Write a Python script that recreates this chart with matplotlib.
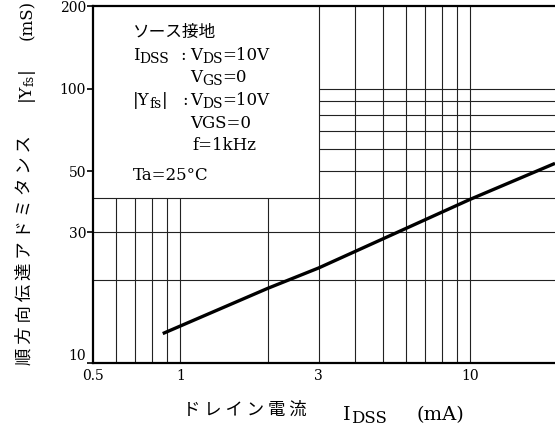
import numpy as np
import matplotlib
matplotlib.use('Agg')
import matplotlib.pyplot as plt

plt.rcParams['font.family'] = ['DejaVu Serif', 'Noto Sans CJK JP']
plt.rcParams['mathtext.fontset'] = 'dejavuserif'

# Data
idss = [0.87, 2, 3, 10, 19.6]          # mA
yfs = [12.8, 18.7, 22.2, 39.5, 53.4]    # mS

x_ticks = [0.5, 1, 3, 10]
x_ticklabels = ['0.5', '1', '3', '10']
y_ticks = [10, 30, 50, 100, 200]
y_ticklabels = ['10', '30', '50', '100', '200']

# grid pieces: lower part only vs full height
v_low = [0.6, 0.7, 0.8, 0.9, 1, 2]
v_full = [3, 4, 5, 6, 7, 8, 9, 10]
h_full = [20, 30, 40]
h_right = [50, 60, 70, 80, 90, 100]

W, H = 555, 428
fig = plt.figure(figsize=(W / 100, H / 100), dpi=100)
ax = fig.add_axes([93 / W, 65 / H, 462 / W, 357 / H])
ax.set_xscale('log')
ax.set_yscale('log')
ax.set_xlim(0.5, 19.6)
ax.set_ylim(10, 200)

gc = '#222222'
ax.vlines(v_low, 10, 40, color=gc, lw=0.8, zorder=1)
ax.vlines(v_full, 10, 200, color=gc, lw=0.8, zorder=1)
ax.hlines(h_full, 0.5, 19.6, color=gc, lw=0.8, zorder=1)
ax.hlines(h_right, 3, 19.6, color=gc, lw=0.8, zorder=1)

ax.plot(idss, yfs, color='black', lw=2.4, solid_capstyle='butt', zorder=3)

ax.set_xticks(x_ticks)
ax.set_xticklabels(x_ticklabels, fontsize=10)
ax.set_yticks(y_ticks)
ax.set_yticklabels(y_ticklabels, fontsize=10)
ax.xaxis.set_minor_locator(plt.NullLocator())
ax.yaxis.set_minor_locator(plt.NullLocator())
ax.tick_params(axis='x', length=0, pad=4)
ax.tick_params(axis='y', length=4, width=1.2, pad=1)
ax.get_yticklabels()[0].set_va('bottom')

for s in ['left', 'bottom', 'top']:
    ax.spines[s].set_linewidth(1.6)
ax.spines['right'].set_visible(False)


def px(x, y):
    return x / W, 1 - y / H


def rich(x, y, parts, size=12, subsize=10, drop=3):
    # parts: (text, is_subscript); each piece starts where the last ended
    prev = None
    for s, is_sub in parts:
        yy = y + (drop if is_sub else 0)
        fs = subsize if is_sub else size
        if prev is None:
            prev = fig.text(*px(x, yy), s, fontsize=fs, va='baseline')
        else:
            prev = ax.annotate(s, xy=(1, 1 - yy / H), xycoords=(prev, 'figure fraction'),
                               fontsize=fs, va='baseline', ha='left', annotation_clip=False)
    return prev


# condition box text
fig.text(*px(133, 37), 'ソース接地', fontsize=12, family='Noto Sans CJK JP', va='baseline')
rich(133, 60, [('I', 0), ('DSS', 1)])
fig.text(*px(180, 60), ':', fontsize=12, va='baseline')
rich(190, 60, [('V', 0), ('DS', 1), ('=10V', 0)])
rich(190, 82, [('V', 0), ('GS', 1), ('=0', 0)])
rich(133, 105, [('|Y', 0), ('fs', 1), ('|', 0)])
fig.text(*px(182, 105), ':', fontsize=12, va='baseline')
rich(190, 105, [('V', 0), ('DS', 1), ('=10V', 0)])
fig.text(*px(190, 128), 'VGS=0', fontsize=12, va='baseline')
fig.text(*px(192, 150), 'f=1kHz', fontsize=12, va='baseline')
fig.text(*px(133, 180), 'Ta=25°C', fontsize=12, va='baseline')

# x label
fig.text(*px(183, 410), 'ド レ イ ン 電 流', fontsize=12.5, family='Noto Sans CJK JP', va='center')
rich(343, 420, [('I', 0), ('DSS', 1)], size=14, subsize=12, drop=3)
fig.text(*px(417, 420), '(mA)', fontsize=14, va='baseline')

# y label
fig.text(*px(25, 365), '順 方 向 伝 達 ア ド ミ タ ン ス', fontsize=12.5,
         family='Noto Sans CJK JP', rotation=90, ha='center', va='bottom')
fig.text(*px(27, 104), r'|Y$_{\rm fs}$|', fontsize=12.5, rotation=90, ha='center', va='bottom')
fig.text(*px(27, 40), '(mS)', fontsize=12, rotation=90, ha='center', va='bottom')

fig.savefig('out.png', dpi=100)
